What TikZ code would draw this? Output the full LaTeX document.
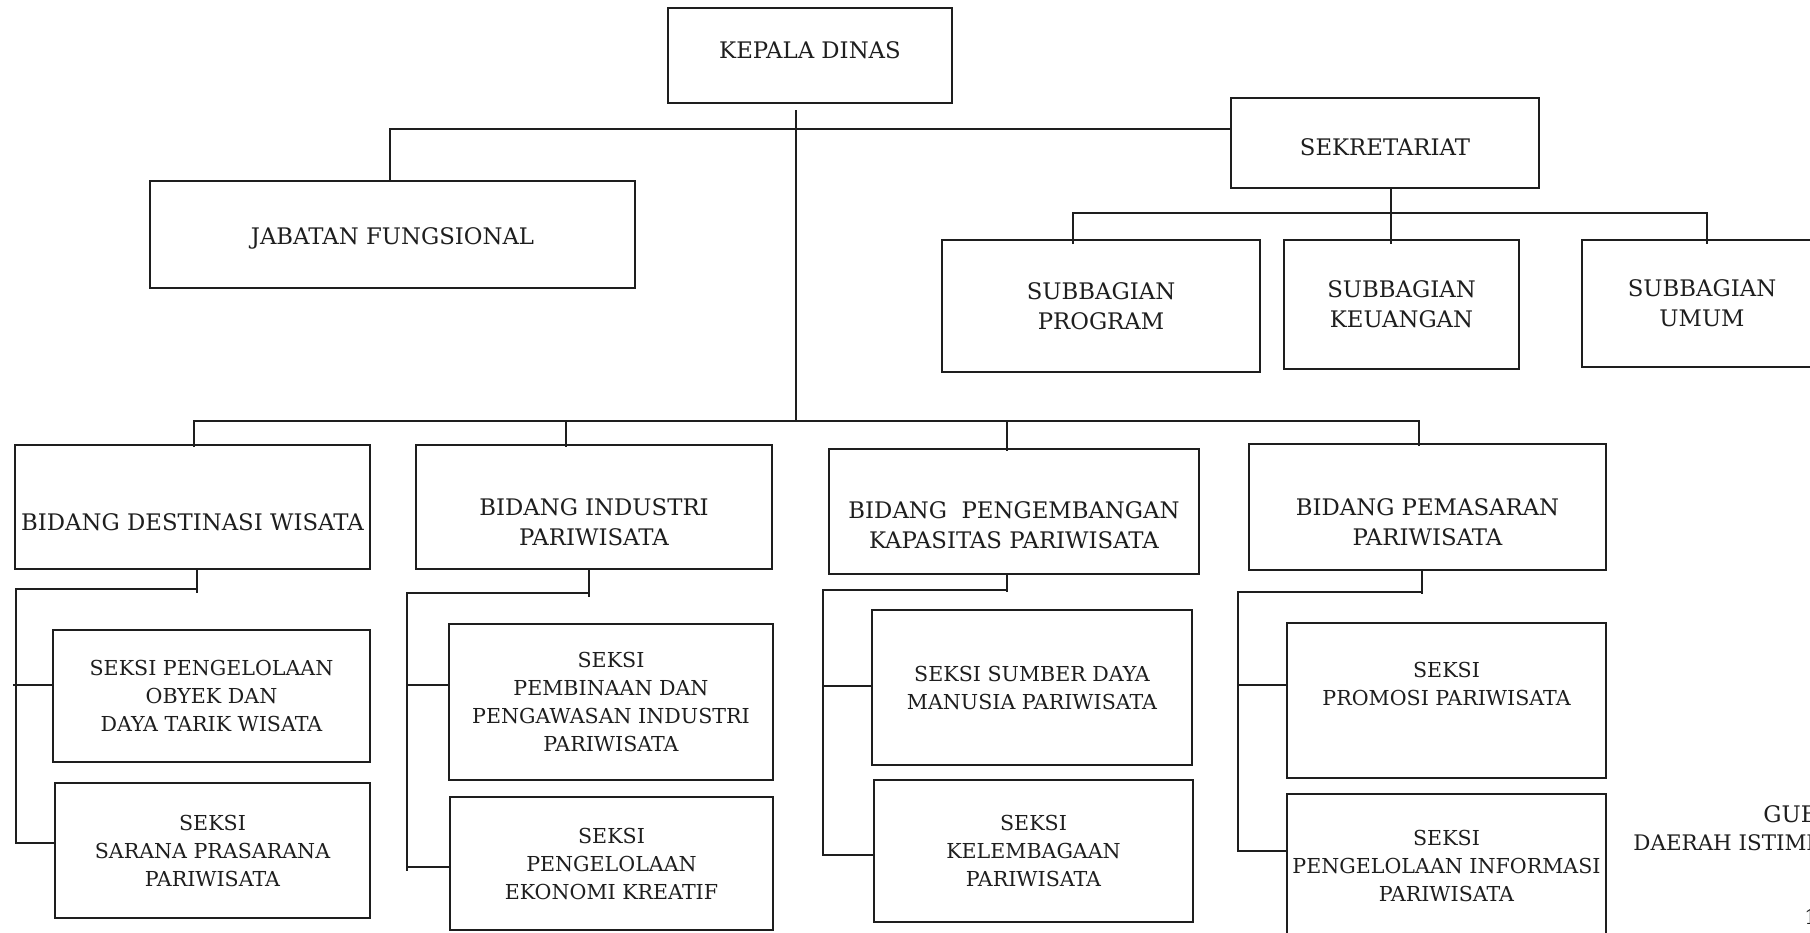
\documentclass[tikz,border=0pt]{standalone}
\usepackage{fontspec}
\setmainfont{DejaVu Serif}
\usetikzlibrary{calc}
\definecolor{ink}{HTML}{1E1E1E}
\tikzset{
  box/.style={draw=ink, line width=1.1pt, inner sep=0pt, outer sep=0pt},
  bigtxt/.style={inner sep=0pt, align=center, text=ink, font=\fontsize{11.4}{15}\selectfont},
  smalltxt/.style={inner sep=0pt, align=center, text=ink, font=\fontsize{10.3}{14}\selectfont},
  conn/.style={draw=ink, line width=1pt},
}
% name, x1, y1, x2, y2, text dy, text style, text
\newcommand\orgbox[8]{%
  \node[box, minimum width={(#4-#2)*0.5pt}, minimum height={(#5-#3)*0.5pt}] (#1) at ({(#2+#4)/2},{(#3+#5)/2}) {};
  \node[#7] (#1-t) at ({(#2+#4)/2},{(#3+#5)/2+#6}) {#8};}
\begin{document}
\begin{tikzpicture}[x=0.5pt,y=-0.5pt]
\useasboundingbox (0,0) rectangle (1810,932);
\clip (0,0) rectangle (1810,932);
\fill[white] (0,0) rectangle (1810,932);

% top level
\orgbox{kd}{668}{8}{952}{103}{-5}{bigtxt}{KEPALA DINAS}
\orgbox{jf}{150}{181}{635}{288}{4}{bigtxt}{JABATAN FUNGSIONAL}
\orgbox{sek}{1231}{98}{1539}{188}{4}{bigtxt}{SEKRETARIAT}
\orgbox{sp}{942}{240}{1260}{372}{0}{bigtxt}{SUBBAGIAN\\PROGRAM}
\orgbox{sk}{1284}{240}{1519}{369}{0}{bigtxt}{SUBBAGIAN\\KEUANGAN}
\orgbox{su}{1582}{240}{1822}{367}{0}{bigtxt}{SUBBAGIAN\\UMUM}

% bidang
\orgbox{bd}{15}{445}{370}{569}{15}{bigtxt}{BIDANG DESTINASI WISATA}
\orgbox{bi}{416}{445}{772}{569}{15}{bigtxt}{BIDANG INDUSTRI\\PARIWISATA}
\orgbox{bp}{829}{449}{1199}{574}{14}{bigtxt}{BIDANG~ PENGEMBANGAN\\KAPASITAS PARIWISATA}
\orgbox{bm}{1249}{444}{1606}{570}{15}{bigtxt}{BIDANG PEMASARAN\\PARIWISATA}

% seksi
\orgbox{s11}{53}{630}{370}{762}{0}{smalltxt}{SEKSI PENGELOLAAN\\OBYEK DAN\\DAYA TARIK WISATA}
\orgbox{s12}{55}{783}{370}{918}{0}{smalltxt}{SEKSI\\SARANA PRASARANA\\PARIWISATA}
\orgbox{s21}{449}{624}{773}{780}{0}{smalltxt}{SEKSI\\PEMBINAAN DAN\\PENGAWASAN INDUSTRI\\PARIWISATA}
\orgbox{s22}{450}{797}{773}{930}{0}{smalltxt}{SEKSI\\PENGELOLAAN\\EKONOMI KREATIF}
\orgbox{s31}{872}{610}{1192}{765}{0}{smalltxt}{SEKSI SUMBER DAYA\\MANUSIA PARIWISATA}
\orgbox{s32}{874}{780}{1193}{922}{0}{smalltxt}{SEKSI\\KELEMBAGAAN\\PARIWISATA}
\orgbox{s41}{1287}{623}{1606}{778}{-17}{smalltxt}{SEKSI\\PROMOSI PARIWISATA}
\orgbox{s42}{1287}{794}{1606}{938}{0}{smalltxt}{SEKSI\\PENGELOLAAN INFORMASI\\PARIWISATA}

% cut-off text at right
\node[bigtxt, anchor=west] (gub) at (1763,814) {GUBE};
\node[smalltxt, anchor=west, font=\fontsize{10.7}{14}\selectfont] (diy) at (1633,843) {DAERAH ISTIME};
\node[smalltxt, anchor=west] (pg) at (1804,917) {1};

% junction coordinates
\coordinate (tb) at (390,129);
\coordinate (kdx) at (796,421);
\coordinate (sbx) at (1391,213);
\coordinate (sb1) at (1073,213);
\coordinate (sb3) at (1707,213);
\coordinate (b1) at (194,421);
\coordinate (b2) at (566,421);
\coordinate (b3) at (1007,421);
\coordinate (b4) at (1419,421);
% column 1
\coordinate (c1a) at (197,589);
\coordinate (c1b) at (16,589);
\coordinate (c1m) at (16,685);
\coordinate (c1e) at (16,843);
% column 2
\coordinate (c2a) at (589,593);
\coordinate (c2b) at (407,593);
\coordinate (c2m) at (407,685);
\coordinate (c2e) at (407,867);
% column 3
\coordinate (c3a) at (1007,590);
\coordinate (c3b) at (823,590);
\coordinate (c3m) at (823,686);
\coordinate (c3e) at (823,855);
% column 4
\coordinate (c4a) at (1422,592);
\coordinate (c4b) at (1238,592);
\coordinate (c4m) at (1238,685);
\coordinate (c4e) at (1238,851);

% top connectors
\draw[conn] ([yshift=-3.5pt]kd.south -| kdx) -- (kdx);
\draw[conn] (jf.north -| tb) -- (tb) -- (tb -| sek.west);
\draw[conn] (sek.south -| sbx) -- ([yshift=-2pt]sbx |- sk.north);
\draw[conn] ([yshift=-2pt]sb1 |- sp.north) -- (sb1) -- (sb3) -- ([yshift=-2pt]sb3 |- su.north);
% bidang bus
\draw[conn] ([yshift=-1pt]b1 |- bd.north) -- (b1) -- (b4) -- ([yshift=-1pt]b4 |- bm.north);
\draw[conn] (b2) -- ([yshift=-1pt]b2 |- bi.north);
\draw[conn] (b3) -- ([yshift=-1pt]b3 |- bp.north);
% column 1
\draw[conn] (bd.south -| c1a) -- ([yshift=-2pt]c1a);
\draw[conn] (c1a) -- (c1b) -- (c1e) -- (c1e -| s12.west);
\draw[conn] ([xshift=-1.5pt]c1m) -- (c1m -| s11.west);
% column 2
\draw[conn] (bi.south -| c2a) -- ([yshift=-2pt]c2a);
\draw[conn] (c2a) -- (c2b) -- ([yshift=-2pt]c2e) ;
\draw[conn] ([xshift=-0.5pt]c2m) -- (c2m -| s21.west);
\draw[conn] (c2e) -- (c2e -| s22.west);
% column 3
\draw[conn] (bp.south -| c3a) -- ([yshift=-1pt]c3a);
\draw[conn] (c3a) -- (c3b) -- (c3e) -- (c3e -| s32.west);
\draw[conn] (c3m) -- (c3m -| s31.west);
% column 4
\draw[conn] (bm.south -| c4a) -- ([yshift=-1pt]c4a);
\draw[conn] (c4a) -- (c4b) -- (c4e) -- (c4e -| s42.west);
\draw[conn] (c4m) -- (c4m -| s41.west);
\end{tikzpicture}
\end{document}
